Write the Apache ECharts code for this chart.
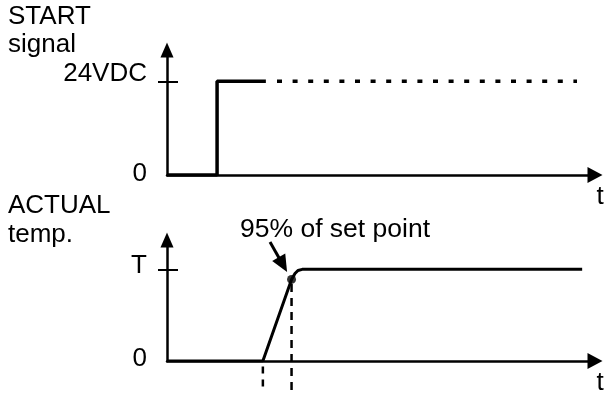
<!DOCTYPE html>
<html>
<head>
<meta charset="utf-8">
<script src="https://cdn.jsdelivr.net/npm/echarts@6/dist/echarts.min.js"></script>
<style>
  html, body { margin: 0; padding: 0; background: #fff; }
  #chart { width: 605px; height: 396px; }
</style>
</head>
<body>
<div id="chart"></div>
<script>
  // time axis runs 0..100 (arbitrary units), both panels share it
  var signalLevels = ['0', '24VDC'];
  var signalTicks = [0, 24];
  var signalOn = [[0, 0], [11.7, 0], [11.7, 24], [23.1, 24]];
  var signalHold = [[25.7, 24], [95.8, 24]];

  var tempLevels = ['0', 'T'];
  var tempTicks = [0, 100];
  // temperature in % of set point
  var tempCurve = [[0, 0], [22.4, 0], [29.1, 89], [29.9, 95.5], [30.6, 98.8], [31.6, 100], [97.0, 100]];
  var reachPoint = [[29.1, 89]];
  var rampStartGuide = [[22.4, -6], [22.4, -33]];
  var reachGuide = [[29.1, 84], [29.1, -33]];
  var noteArrow = [[24.07, 129.9], [27.08, 105.1]];
  var noteText = '95% of set point';

  var FONT = '"Liberation Sans", Arial, sans-serif';
  var chart = echarts.init(document.getElementById('chart'));

  function timeAxis(grid) {
    return {
      type: 'value', gridIndex: grid, min: 0, max: 100,
      name: 't', nameLocation: 'end', nameGap: 5,
      nameTextStyle: { fontFamily: FONT, fontSize: 26, color: '#000', align: 'center', verticalAlign: 'top', padding: [9, 0, 0, 0] },
      axisLine: { lineStyle: { color: '#000', width: 2.5 }, symbol: ['none', 'triangle'], symbolSize: [16, 15] },
      axisTick: { show: false }, axisLabel: { show: false }, splitLine: { show: false }
    };
  }

  // lift: how many px the label sits above its tick
  function levelAxis(grid, max, ticks, labels, lifts, tickVal) {
    var rich = {};
    lifts.forEach(function (l, i) {
      rich['l' + i] = { fontFamily: FONT, fontSize: 26, color: '#000', padding: [0, 0, l * 2, 0] };
    });
    return {
      type: 'value', gridIndex: grid, min: 0, max: max,
      axisLine: { lineStyle: { color: '#000', width: 2.5 }, symbol: ['none', 'triangle'], symbolSize: [13, 15] },
      axisTick: { show: true, length: 9, customValues: [tickVal], lineStyle: { color: '#000', width: 2 } },
      axisLabel: {
        margin: 20, customValues: ticks, color: '#000', fontFamily: FONT, fontSize: 26, rich: rich,
        formatter: function (v) {
          var i = ticks.indexOf(v);
          return '{l' + i + '|' + labels[i] + '}';
        }
      },
      splitLine: { show: false }
    };
  }

  // second axis only to draw the inner half of the level tick
  function innerTickAxis(grid, max, tickVal) {
    return {
      type: 'value', gridIndex: grid, min: 0, max: max, position: 'left',
      axisLine: { show: false },
      axisTick: { show: true, inside: true, length: 11, customValues: [tickVal], lineStyle: { color: '#000', width: 2 } },
      axisLabel: { show: false }, splitLine: { show: false }
    };
  }

  var option = {
    animation: false,
    title: [
      { text: 'START\nsignal', left: 8, top: 3, padding: 0,
        textStyle: { fontFamily: FONT, fontSize: 26, fontWeight: 'normal', color: '#000', lineHeight: 28 } },
      { text: 'ACTUAL\ntemp.', left: 8, top: 191, padding: 0,
        textStyle: { fontFamily: FONT, fontSize: 26, fontWeight: 'normal', color: '#000', lineHeight: 29 } }
    ],
    grid: [
      { left: 167, right: 10, top: 50, height: 125 },
      { left: 167, right: 10, top: 240, height: 125 }
    ],
    xAxis: [timeAxis(0), timeAxis(1)],
    yAxis: [
      levelAxis(0, 32, signalTicks, signalLevels, [1, 7], 24),
      innerTickAxis(0, 32, 24),
      levelAxis(1, 132, tempTicks, tempLevels, [2, 4], 100),
      innerTickAxis(1, 132, 100)
    ],
    graphic: [
      { type: 'text', left: 240, top: 216,
        style: { text: noteText, fontFamily: FONT, fontSize: 26.5, fill: '#000' } }
    ],
    series: [
      { type: 'line', xAxisIndex: 0, yAxisIndex: 0, data: signalOn, symbol: 'none',
        lineStyle: { color: '#000', width: 3.5 } },
      { type: 'line', xAxisIndex: 0, yAxisIndex: 0, data: signalHold, symbol: 'none',
        lineStyle: { color: '#000', width: 3.5, type: [5, 10.6], cap: 'butt' } },
      { type: 'line', xAxisIndex: 1, yAxisIndex: 2, data: tempCurve, symbol: 'none',
        lineStyle: { color: '#000', width: 3 } },
      { type: 'line', xAxisIndex: 1, yAxisIndex: 2, data: rampStartGuide, symbol: 'none', clip: false,
        lineStyle: { color: '#000', width: 2.5, type: [7, 6] } },
      { type: 'line', xAxisIndex: 1, yAxisIndex: 2, data: reachGuide, symbol: 'none', clip: false,
        lineStyle: { color: '#000', width: 2.5, type: [8, 6] } },
      { type: 'scatter', xAxisIndex: 1, yAxisIndex: 2, data: reachPoint, symbolSize: 9,
        itemStyle: { color: '#000' }, z: 5,
        markLine: {
          silent: true, symbol: ['none', 'triangle'], symbolSize: [15, 17],
          label: { show: false },
          lineStyle: { color: '#000', width: 3, type: 'solid' },
          data: [[{ coord: noteArrow[0] }, { coord: noteArrow[1] }]]
        } }
    ]
  };

  chart.setOption(option);
</script>
</body>
</html>
